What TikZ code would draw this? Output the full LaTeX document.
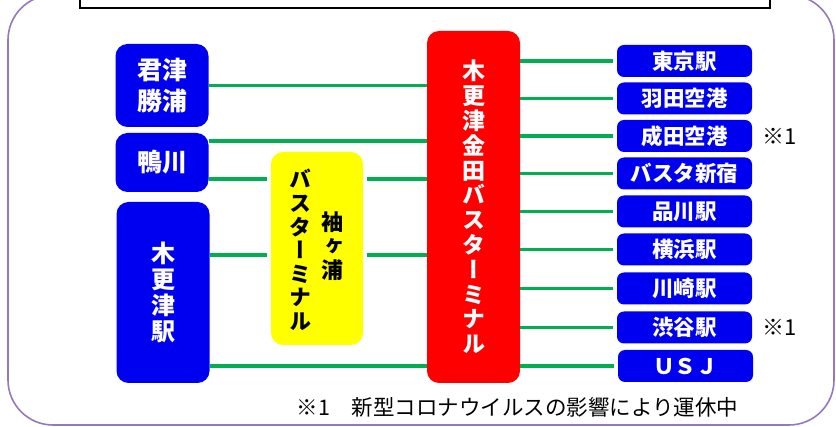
\documentclass[tikz,border=0pt]{standalone}
\usepackage{fontspec}
\setmainfont{Noto Sans CJK JP}
\newfontfamily\vjp{Noto Sans CJK JP}[RawFeature=+vert]
\definecolor{myblue}{RGB}{0,0,240}
\definecolor{myred}{RGB}{255,0,0}
\definecolor{myyellow}{RGB}{255,255,0}
\definecolor{mygreen}{RGB}{0,176,80}
\definecolor{frameline}{RGB}{150,120,190}
\tikzset{
  destbox/.style={fill=myblue, rounded corners=7pt, text=white, inner sep=0pt,
    minimum width=135pt, minimum height=32pt, font=\bfseries\fontsize{21.5}{24}\selectfont},
  originbox/.style={fill=myblue, rounded corners=12pt, text=white, inner sep=0pt, align=center,
    minimum width=93pt},
  termbox/.style={rounded corners=12pt, inner sep=0pt},
  link/.style={draw=mygreen, line width=3.5pt},
  notetext/.style={inner sep=0pt, font=\fontsize{22}{24}\selectfont}
}
\begin{document}
\begin{tikzpicture}[x=1pt,y=-1pt]
\useasboundingbox (0,0) rectangle (836,427);
\fill[white] (0,0) rectangle (836,427);
\draw[frameline, line width=1.6pt, rounded corners=45pt] (8,-5) rectangle (834,425);
\draw[black, line width=1.5pt, fill=white] (80,-10) rectangle (770,8);

% origins
\node[originbox, minimum height=83pt, font=\bfseries\fontsize{25}{31}\selectfont] (kimitsu) at (162,85.5) {君津\\勝浦};
\node[originbox, minimum height=59pt, font=\bfseries\fontsize{25}{31}\selectfont] (kamo) at (162,162.5) {鴨川};
\node[originbox, minimum height=181pt, font=\bfseries\fontsize{24}{26}\selectfont] (kisa) at (163,292.5) {木\\更\\津\\駅};

% terminals
\node[termbox, fill=myyellow, minimum width=92pt, minimum height=193pt] (yellow) at (317,248.5) {};
\node[inner sep=0pt, align=center, font=\vjp\bfseries\fontsize{22}{23.6}\selectfont] (ycolA) at (300,250) {バ\\ス\\タ\\ー\\ミ\\ナ\\ル};
\node[inner sep=0pt, align=center, font=\vjp\bfseries\fontsize{22}{24}\selectfont] (ycolB) at (332,246) {袖\\ヶ\\浦};
\node[termbox, fill=myred, text=white, align=center, minimum width=93pt, minimum height=352pt,
  font=\vjp\bfseries\fontsize{23}{24.8}\selectfont] (red) at (473.5,207) {木\\更\\津\\金\\田\\バ\\ス\\タ\\ー\\ミ\\ナ\\ル};

% destinations
\node[destbox] (d1) at (684.5,61) {東京駅};
\node[destbox] (d2) at (684.5,98.5) {羽田空港};
\node[destbox] (d3) at (684.5,136) {成田空港};
\node[destbox] (d4) at (684.5,173.5) {バスタ新宿};
\node[destbox] (d5) at (684.5,211.5) {品川駅};
\node[destbox] (d6) at (684.5,249.5) {横浜駅};
\node[destbox] (d7) at (684.5,288.5) {川崎駅};
\node[destbox] (d8) at (684.5,327.5) {渋谷駅};
\node[destbox] (d9) at (685.5,366) {ＵＳＪ};

\node[notetext] (n1) at (780,136) {※1};
\node[notetext] (n2) at (780,327.5) {※1};
\node[notetext, font=\fontsize{21.5}{24}\selectfont] (note) at (517.5,407) {※1　新型コロナウイルスの影響により運休中};

% connectors left
\draw[link] (kimitsu.east) -- (red.west |- kimitsu.east);
\draw[link] (kamo.east |- 0,141) -- (red.west |- 0,141);
\draw[link, shorten >=4pt] (kamo.east |- 0,179) -- (yellow.west |- 0,179);
\draw[link, shorten <=4pt] (yellow.east |- 0,179) -- (red.west |- 0,179);
\draw[link, shorten >=4pt] (kisa.east |- 0,255) -- (yellow.west |- 0,255);
\draw[link, shorten <=4pt] (yellow.east |- 0,255) -- (red.west |- 0,255);
\draw[link] (kisa.east |- 0,366) -- (red.west |- 0,366);

% connectors right
\foreach \d in {d1,d2,d3,d4,d5,d6,d7,d8,d9}{
  \draw[link, shorten >=4pt] (red.east |- \d.west) -- (\d.west);
}
\end{tikzpicture}
\end{document}
